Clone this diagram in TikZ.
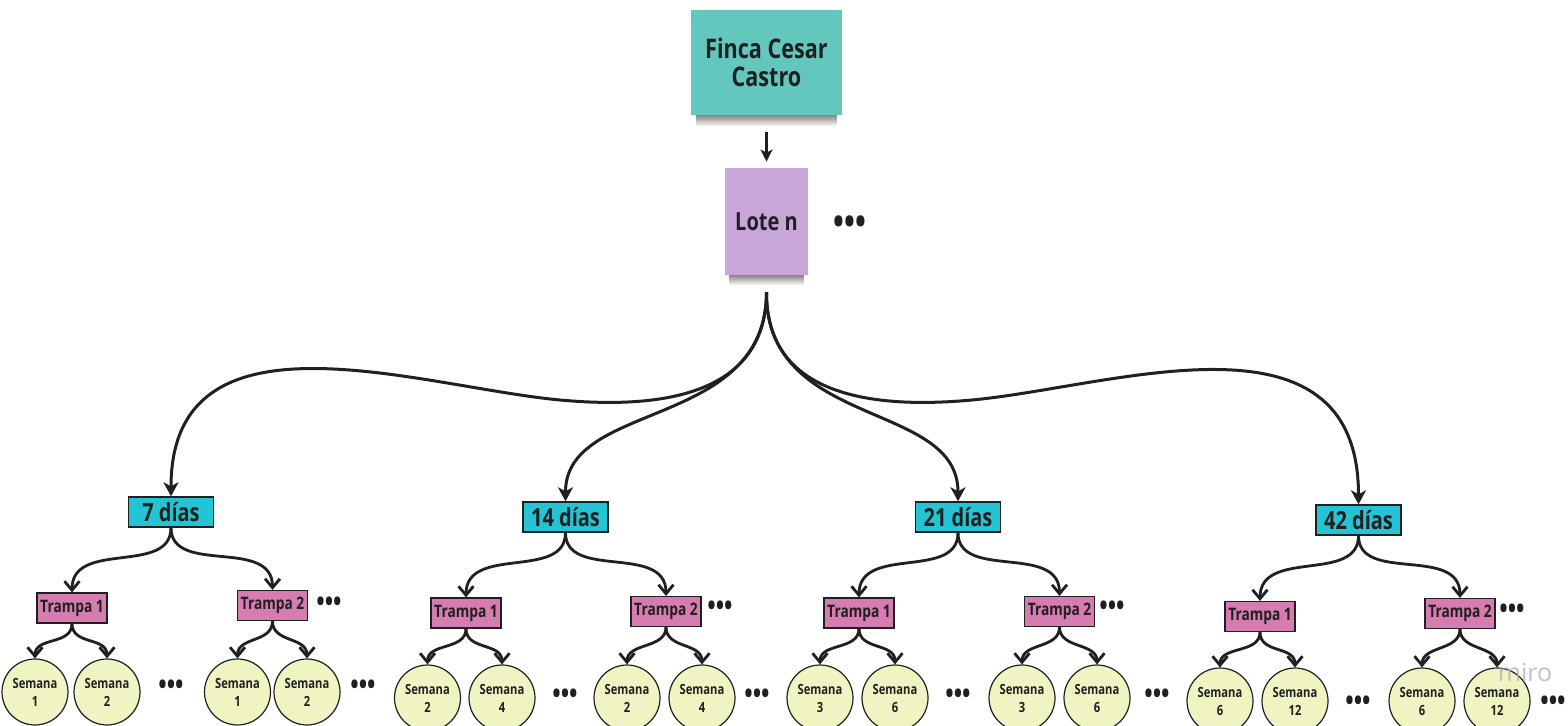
\documentclass[tikz,border=0pt]{standalone}
\usepackage{fontspec}
\setmainfont{Open Sans}[FakeStretch=0.8]
\newfontfamily\wmfont{Open Sans}
\usetikzlibrary{arrows.meta,calc,backgrounds}
\definecolor{ink}{RGB}{32,32,32}
\definecolor{fincacol}{RGB}{99,199,190}
\definecolor{lotecol}{RGB}{200,166,218}
\definecolor{diacol}{RGB}{36,196,212}
\definecolor{trcol}{RGB}{214,124,176}
\definecolor{semcol}{RGB}{240,243,194}
\begin{document}
\begin{tikzpicture}[x=0.5pt,y=-0.5pt,
  note/.style={draw=none, inner sep=0pt, align=center, text=ink},
  diabox/.style={draw=ink, line width=0.7pt, fill=diacol, minimum width=42.5pt,
    minimum height=15pt, inner sep=0pt, text=ink, font=\bfseries\fontsize{12.5}{14}\selectfont},
  trbox/.style={draw=ink, line width=0.6pt, fill=trcol, minimum width=35pt,
    minimum height=15pt, inner sep=0pt, text=ink, font=\bfseries\fontsize{8.6}{9}\selectfont},
  sem/.style={circle, draw=ink, line width=0.6pt, fill=semcol, minimum size=33pt,
    inner sep=0pt, align=center, text=ink, font=\bfseries\fontsize{7}{9}\selectfont},
  dotsn/.style={font=\bfseries\fontsize{14}{14}\selectfont, text=ink, inner sep=0pt},
  big/.style={draw=ink, line width=1.5pt, -{Stealth[length=7pt,width=7.5pt,inset=2pt]}},
  small/.style={draw=ink, line width=1.4pt, -{Straight Barb[length=4.5pt,width=7.5pt]}},
  noteshadow/.style={top color=black!55, bottom color=white, draw=none},
]
\useasboundingbox (0,0) rectangle (1568,726);

\node[note, fill=fincacol, minimum width=75.5pt, minimum height=52.5pt,
  font=\bfseries\fontsize{13.5}{14}\selectfont] (finca) at (766.5,62.5) {Finca Cesar\\Castro};
\node[note, fill=lotecol, minimum width=41.5pt, minimum height=53.5pt,
  font=\bfseries\fontsize{12.5}{14}\selectfont] (lote) at (766.5,221.5) {Lote n};
\node[dotsn, font=\bfseries\fontsize{18}{18}\selectfont] (lotedots) at (850,225) {•••};

\begin{scope}[on background layer]
  \shade[noteshadow] ($(finca.south west)+(6,-2)$) rectangle ($(finca.south east)+(-6,11)$);
  \shade[noteshadow] ($(lote.south west)+(5,-2)$) rectangle ($(lote.south east)+(-5,10)$);
\end{scope}

\draw[draw=ink, line width=1.1pt, -{Stealth[length=6pt,width=6pt,inset=1.5pt]}, shorten <=8.5pt, shorten >=3pt]
  (finca.south) -- (lote.north);

\coordinate (lb) at ($(lote.south)+(0,17)$);

\foreach \g/\lab/\dx/\dy/\ax/\ay/\bx/\by/\sa/\sb/\sc/\sd/\sy/\na/\nb/\pa/\pb/\py/\qx/\qy in {
 d7/7 días/171/512/72/608/272.5/605.5/35/107/237.5/307/692/1/2/171/363/687/329/604,
 d14/14 días/565.5/517/466/613/666/611.5/427.5/502/627/702/698/2/4/565/757/696/720/608,
 d21/21 días/958/517/859/613/1059.5/611.5/820/895/1022/1097/698/3/6/958/1157/696/1112/608,
 d42/42 días/1358.5/520/1260/616.5/1460/613.5/1220/1295/1422/1497/701/6/12/1358/1553/703/1512/611}
{
  \node[diabox] (\g) at (\dx,\dy) {\lab};
  \node[trbox] (\g t1) at (\ax,\ay) {Trampa 1};
  \node[trbox] (\g t2) at (\bx,\by) {Trampa 2};
  \node[dotsn] (\g tp) at (\qx,\qy) {•••};
  \node[sem] (\g s1) at (\sa,\sy) {Semana\\\na};
  \node[sem] (\g s2) at (\sb,\sy) {Semana\\\nb};
  \node[sem] (\g s3) at (\sc,\sy) {Semana\\\na};
  \node[sem] (\g s4) at (\sd,\sy) {Semana\\\nb};
  \node[dotsn] (\g pa) at (\pa,\py) {•••};
  \node[dotsn] (\g pb) at (\pb,\py) {•••};
  \draw[small] (\g.south) .. controls +(0,48) and +(0,-53) .. (\g t1.north);
  \draw[small] (\g.south) .. controls +(0,48) and +(0,-53) .. (\g t2.north);
  \draw[small] (\g t1.south) .. controls +(0,22) and +(0,-22) .. (\g s1.north);
  \draw[small] (\g t1.south) .. controls +(0,22) and +(0,-22) .. (\g s2.north);
  \draw[small] (\g t2.south) .. controls +(0,22) and +(0,-22) .. (\g s3.north);
  \draw[small] (\g t2.south) .. controls +(0,22) and +(0,-22) .. (\g s4.north);
}

\draw[big] (lb) .. controls (766,380) and (690,412) .. (560,400)
  .. controls (420,387) and (171,300) .. (d7.north);
\draw[big] (lb) .. controls (766,430) and (565.5,400) .. (d14.north);
\draw[big] (lb) .. controls (766,430) and (958,400) .. (d21.north);
\draw[big] (lb) .. controls (766,380) and (842,412) .. (972,400)
  .. controls (1112,387) and (1358.5,300) .. (d42.north);

\node[text=black!30, inner sep=0pt, font=\wmfont\fontsize{12.5}{13}\selectfont, opacity=0.8] (miro) at (1525,672) {miro};
\end{tikzpicture}
\end{document}
